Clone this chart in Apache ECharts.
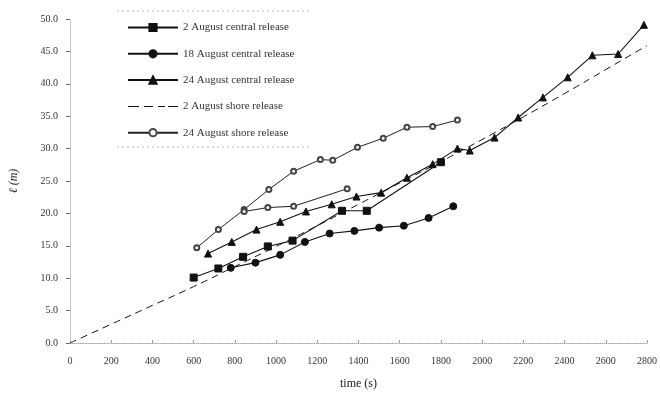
<!DOCTYPE html>
<html>
<head>
<meta charset="utf-8">
<script src="https://cdn.jsdelivr.net/npm/echarts@6/dist/echarts.min.js"></script>
<style>html,body{margin:0;padding:0;background:#fff}#c{width:660px;height:395px}</style>
</head>
<body>
<div id="c"></div>
<script>
// ---- data ----
var xTicks = [0,200,400,600,800,1000,1200,1400,1600,1800,2000,2200,2400,2600,2800];
var yTicks = [0,5,10,15,20,25,30,35,40,45,50];

var aug2CentralT = [600,720,840,960,1080,1320,1440,1800];
var aug2CentralV = [10.1,11.5,13.3,14.9,15.8,20.4,20.4,27.9];

var aug18CentralT = [780,900,1020,1140,1260,1380,1500,1620,1740,1860];
var aug18CentralV = [11.6,12.4,13.6,15.6,16.9,17.3,17.8,18.1,19.3,21.1];

var aug24CentralT = [670,785,905,1020,1145,1270,1390,1510,1635,1760,1880,1940,2060,2175,2295,2415,2535,2660,2785];
var aug24CentralV = [13.8,15.6,17.5,18.7,20.3,21.4,22.6,23.2,25.5,27.6,30.0,29.7,31.7,34.8,37.9,41.0,44.4,44.6,49.1];

var aug2ShoreT = [0,200,400,600,800,1000,1200,1400,1600,1800,2000,2200,2400,2600,2800];
var aug2ShoreV = [0,2.9,5.8,8.7,11.8,14.9,18.1,21.4,24.7,28.0,31.4,34.9,38.5,42.2,45.9];

var aug24ShoreT = [615,720,845,965,1085,1215,1275,1395,1520,1635,1760,1880];
var aug24ShoreV = [14.7,17.5,20.6,23.7,26.5,28.3,28.2,30.2,31.6,33.3,33.4,34.4];

var aug24ShoreBT = [845,960,1085,1345];
var aug24ShoreBV = [20.3,20.9,21.1,23.8];

var legendNames = ['2 August central release','18 August central release','24 August central release','2 August shore release','24 August shore release'];

function pairs(t, v){ return t.map(function(x,i){ return [x, v[i]]; }); }

var FONT = 'Liberation Serif';
var INK = '#111';
var chart = echarts.init(document.getElementById('c'), null, {renderer:'canvas'});

function lineSeries(name, t, v, symbol, size, extra){
  var s = {
    name: name, type: 'line', data: pairs(t, v),
    symbol: symbol, symbolSize: size, showSymbol: true,
    lineStyle: {color: INK, width: 1.1},
    itemStyle: {color: INK, borderColor: INK, borderWidth: 1},
    animation: false, z: 3
  };
  for (var k in extra) s[k] = extra[k];
  return s;
}

// dashed legend sample: tiny corner dots fix a 50x9 bounding box so the dashes stay thin
var dashIcon = 'path://M0,0h0.01v0.01h-0.01z M0,4h11v1h-11z M16,4h9v1h-9z M30,4h7v1h-7z M40,4h10v1h-10z M49.99,8.99h0.01v0.01h-0.01z';

var option = {
  backgroundColor: '#fff',
  animation: false,
  grid: {left: 67, right: 11, top: 19, bottom: 52, containLabel: false},
  legend: {
    orient: 'vertical', left: 122, top: 17,
    itemWidth: 50, itemHeight: 9, itemGap: 15.3,
    textStyle: {fontFamily: FONT, fontSize: 11, color: '#333'},
    data: [
      {name: legendNames[0]},
      {name: legendNames[1]},
      {name: legendNames[2]},
      {name: legendNames[3], icon: dashIcon, itemStyle: {color: INK, borderWidth: 0, borderColor: 'transparent'}},
      {name: legendNames[4]}
    ]
  },
  xAxis: {
    type: 'value', min: 0, max: 2800, interval: 200,
    name: 'time (s)', nameLocation: 'middle', nameGap: 35,
    nameTextStyle: {fontFamily: FONT, fontSize: 12, color: '#222'},
    axisLine: {show: true, lineStyle: {color: '#aaa', type: 'dotted', width: 1}},
    axisTick: {show: true, inside: true, length: 3, lineStyle: {color: '#999'}},
    axisLabel: {fontFamily: FONT, fontSize: 10, color: '#333', margin: 13,
      formatter: function(v){ return String(v); }},
    splitLine: {show: false}
  },
  yAxis: {
    type: 'value', min: 0, max: 50, interval: 5,
    name: 'ℓ (m)', nameLocation: 'middle', nameGap: 50, nameRotate: 90,
    nameTextStyle: {fontFamily: FONT, fontSize: 12, fontStyle: 'italic', color: '#222'},
    axisLine: {show: true, lineStyle: {color: '#bbb', type: 'dotted', width: 1}},
    axisTick: {show: true, length: 4, lineStyle: {color: '#666'}},
    axisLabel: {fontFamily: FONT, fontSize: 10, color: '#333', margin: 12,
      formatter: function(v){ return v.toFixed(1); }},
    splitLine: {show: false}
  },
  graphic: [
    {type:'line', shape:{x1:117,y1:11,x2:310,y2:11}, style:{stroke:'#bbb', lineWidth:1, lineDash:[2,3]}},
    {type:'line', shape:{x1:117,y1:147,x2:310,y2:147}, style:{stroke:'#bbb', lineWidth:1, lineDash:[2,3]}}
  ],
  series: [
    lineSeries(legendNames[0], aug2CentralT, aug2CentralV, 'rect', 7, {}),
    lineSeries(legendNames[1], aug18CentralT, aug18CentralV, 'circle', 7, {}),
    lineSeries(legendNames[2], aug24CentralT, aug24CentralV, 'triangle', 7, {}),
    lineSeries(legendNames[3], aug2ShoreT, aug2ShoreV, 'none', 0,
      {smooth: true, showSymbol: false, lineStyle: {color: INK, width: 1, type: [7,5]}}),
    lineSeries(legendNames[4], aug24ShoreT, aug24ShoreV, 'emptyCircle', 5,
      {itemStyle: {color: '#444', borderWidth: 1}, lineStyle: {color: '#222', width: 1}}),
    lineSeries(legendNames[4], aug24ShoreBT, aug24ShoreBV, 'emptyCircle', 5,
      {itemStyle: {color: '#444', borderWidth: 1}, lineStyle: {color: '#222', width: 1}})
  ]
};
chart.setOption(option);
</script>
</body>
</html>
